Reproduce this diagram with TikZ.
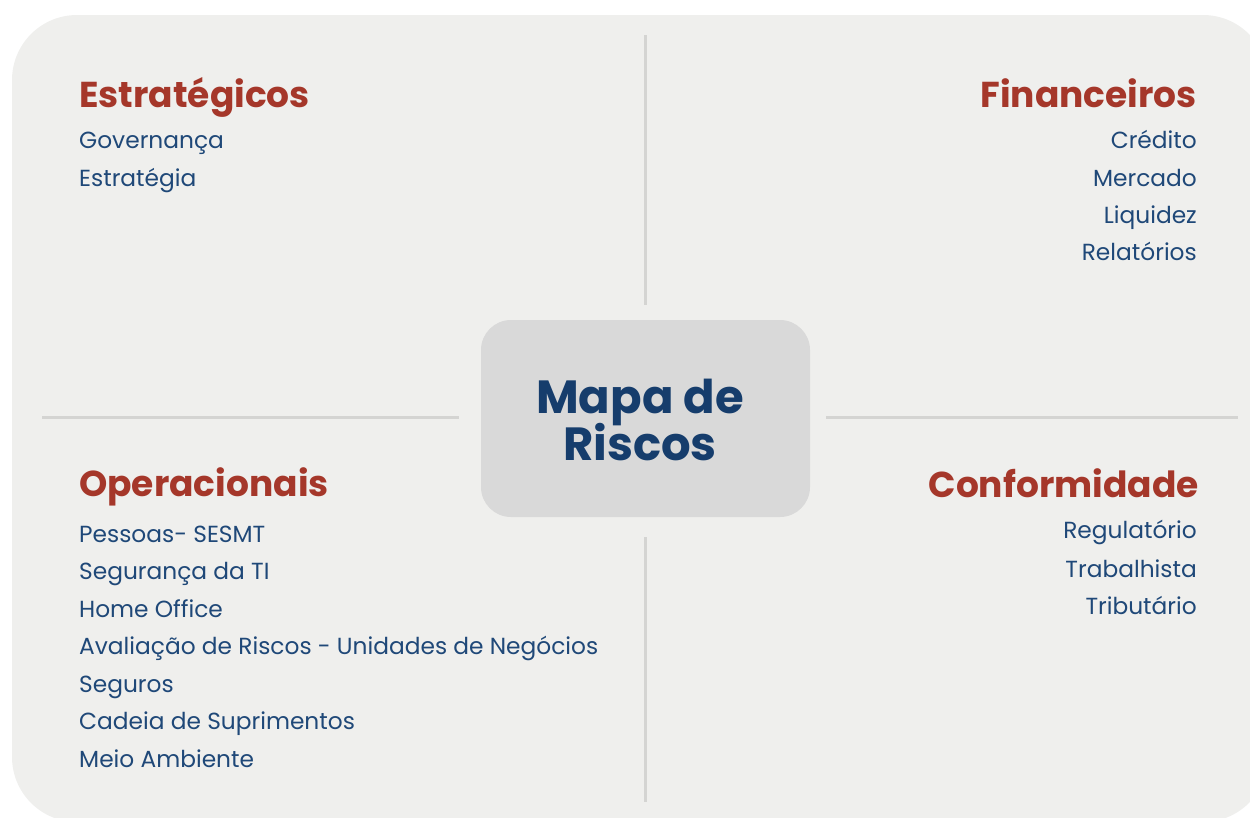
\documentclass[tikz,border=0pt]{standalone}
\usepackage{fontspec}
\setmainfont{Poppins}
\usepackage{xcolor}
\definecolor{paper}{HTML}{EFEFED}
\definecolor{boxgray}{HTML}{D9D9D9}
\definecolor{rulegray}{HTML}{D4D4D2}
\definecolor{headred}{HTML}{A5372A}
\definecolor{itemblue}{HTML}{1F4878}
\definecolor{mapblue}{HTML}{163D6C}
\tikzset{
  head/.style={color=headred, font=\fontsize{36}{40}\selectfont\bfseries, inner sep=0pt},
  item/.style={color=itemblue, font=\fontsize{23.3}{26}\selectfont, inner sep=0pt},
  divider/.style={color=rulegray, line width=3pt}
}

\begin{document}
\begin{tikzpicture}[x=1pt, y=-1pt]
	\useasboundingbox (0,0) rectangle (1250,817);
	\fill[color=paper, rounded corners=65pt] (12,15) rectangle (1268,822);
	% dividers
	\draw[divider] (645,35) -- (645,305);
	\draw[divider] (645,537) -- (645,802);
	\draw[divider] (42,417) -- (459,417);
	\draw[divider] (826,417) -- (1238,417);
	% centre
	\node[fill=boxgray, rounded corners=30pt, minimum width=329pt, minimum height=197pt] (mapa) at (645.5,418.5) {};
	\node[color=mapblue, font=\fontsize{46.5}{47}\selectfont\bfseries, align=center] (mapatxt) at (640,420) {Mapa de\\[-3pt]Riscos};
	% top left
	\node[head, anchor=base west] (estrategicos) at (79,107) {Estratégicos};
	\node[item, anchor=base west] (governanca) at (79,148) {Governança};
	\node[item, anchor=base west] (estrategia) at (79,186) {Estratégia};
	% top right
	\node[head, anchor=base east] (financeiros) at (1197,107) {Financeiros};
	\node[item, anchor=base east] (credito) at (1197,148) {Crédito};
	\node[item, anchor=base east] (mercado) at (1197,186) {Mercado};
	\node[item, anchor=base east] (liquidez) at (1197,223) {Liquidez};
	\node[item, anchor=base east] (relatorios) at (1197,260) {Relatórios};
	% bottom left
	\node[head, anchor=base west] (operacionais) at (79,496) {Operacionais};
	\node[item, anchor=base west] (pessoas) at (79,542) {Pessoas- SESMT};
	\node[item, anchor=base west] (segti) at (79,579) {Segurança da TI};
	\node[item, anchor=base west] (homeoffice) at (79,617) {Home Office};
	\node[item, anchor=base west] (avaliacao) at (79,654) {Avaliação de Riscos - Unidades de Negócios};
	\node[item, anchor=base west] (seguros) at (79,692) {Seguros};
	\node[item, anchor=base west] (cadeia) at (79,729) {Cadeia de Suprimentos};
	\node[item, anchor=base west] (meioamb) at (79,767) {Meio Ambiente};
	% bottom right
	\node[head, anchor=base east] (conformidade) at (1199,497) {Conformidade};
	\node[item, anchor=base east] (regulatorio) at (1197,538) {Regulatório};
	\node[item, anchor=base east] (trabalhista) at (1197,577) {Trabalhista};
	\node[item, anchor=base east] (tributario) at (1197,614) {Tributário};
\end{tikzpicture}
\end{document}
